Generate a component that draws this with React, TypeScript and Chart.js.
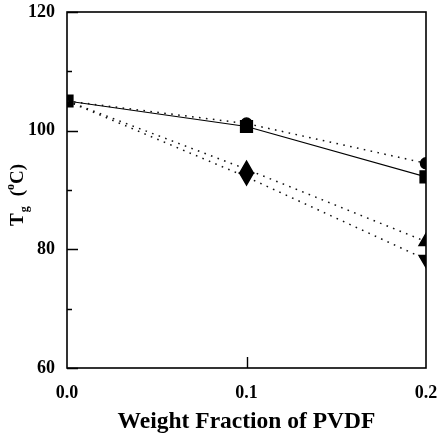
import React, { useEffect, useRef } from "react";
import { Chart, registerables } from "chart.js";

Chart.register(...registerables);

// ---- data ----
const X_VALUES = [0.0, 0.1, 0.2];
const SQUARE_SERIES = [105, 100.7, 92.2];
const CIRCLE_SERIES = [105, 101.2, 94.5];
const UP_TRIANGLE_SERIES = [105, 93.5, 81.3];
const DOWN_TRIANGLE_SERIES = [105, 92.2, 78.3];
const Y_TICKS = [60, 70, 80, 90, 100, 110, 120];
const Y_LABELED = [60, 80, 100, 120];
const X_TICKS = [0.1];
const X_TITLE = "Weight Fraction of PVDF";

const FONT = '"Liberation Serif", "Times New Roman", serif';

const toPoints = (ys: number[]) => X_VALUES.map((x, i) => ({ x, y: ys[i] }));

const framePlugin = {
  id: "frame",
  afterDraw(chart: any) {
    const ctx = chart.ctx;
    const { left, right, top, bottom } = chart.chartArea;
    const ys = chart.scales.y;
    const xs = chart.scales.x;
    ctx.save();
    ctx.strokeStyle = "#000";
    ctx.lineWidth = 1.6;
    ctx.strokeRect(left, top, right - left, bottom - top);
    ctx.lineWidth = 1.4;
    ctx.beginPath();
    for (const v of Y_TICKS) {
      const py = Math.round(ys.getPixelForValue(v)) + 0.5;
      const len = Y_LABELED.includes(v) ? 11 : 5;
      ctx.moveTo(left, py);
      ctx.lineTo(left + len, py);
    }
    for (const v of X_TICKS) {
      const px = Math.round(xs.getPixelForValue(v)) + 0.5;
      ctx.moveTo(px, bottom);
      ctx.lineTo(px, bottom - 11);
    }
    ctx.stroke();

    // x title
    ctx.fillStyle = "#000";
    ctx.font = `bold 23.5px ${FONT}`;
    ctx.textAlign = "center";
    ctx.textBaseline = "middle";
    ctx.fillText(X_TITLE, (left + right) / 2, 422);

    // y title: T_g (°C)
    ctx.translate(23, 195);
    ctx.rotate(-Math.PI / 2);
    const big = `bold 19px ${FONT}`;
    const small = `bold 12px ${FONT}`;
    const parts = [
      { t: "T", f: big, dy: 0, gap: 0 },
      { t: "g", f: small, dy: 5, gap: 1 },
      { t: "(", f: big, dy: 0, gap: 10 },
      { t: "o", f: small, dy: -9, gap: 0 },
      { t: "C)", f: big, dy: 0, gap: 0 },
    ];
    let total = 0;
    for (const p of parts) {
      ctx.font = p.f;
      total += ctx.measureText(p.t).width + p.gap;
    }
    let cx = -total / 2;
    ctx.textAlign = "left";
    ctx.textBaseline = "alphabetic";
    for (const p of parts) {
      ctx.font = p.f;
      cx += p.gap;
      ctx.fillText(p.t, cx, p.dy);
      cx += ctx.measureText(p.t).width;
    }
    ctx.restore();
  },
};

export default function App() {
  const ref = useRef<HTMLCanvasElement | null>(null);
  useEffect(() => {
    if (!ref.current) return;
    const dotted = [1.6, 5.4];
    const common = {
      showLine: true,
      borderColor: "#111",
      borderWidth: 1.5,
      borderDash: dotted,
      backgroundColor: "#000",
      pointBorderColor: "#000",
      clip: 0,
    };
    const chart = new Chart(ref.current, {
      type: "scatter",
      data: {
        datasets: [
          { ...common, data: toPoints(CIRCLE_SERIES), pointStyle: "circle", pointRadius: [0, 5.5, 5.5] },
          { ...common, data: toPoints(UP_TRIANGLE_SERIES), pointStyle: "triangle", pointRadius: [0, 8, 8] },
          {
            ...common,
            data: toPoints(DOWN_TRIANGLE_SERIES),
            pointStyle: "triangle",
            pointRotation: 180,
            pointRadius: [0, 8, 8],
          },
          {
            data: toPoints(SQUARE_SERIES),
            showLine: true,
            borderColor: "#000",
            borderWidth: 1.2,
            pointStyle: "rect",
            pointRadius: 8.5,
            backgroundColor: "#000",
            pointBorderColor: "#000",
            clip: 0,
          },
        ],
      },
      options: {
        animation: false,
        responsive: false,
        layout: { padding: { left: 0, top: 12, right: 13, bottom: 0 } },
        plugins: { legend: { display: false }, tooltip: { enabled: false } },
        scales: {
          x: {
            type: "linear",
            min: 0,
            max: 0.2,
            grid: { display: false, drawTicks: false },
            border: { display: false },
            ticks: {
              stepSize: 0.1,
              padding: 15,
              color: "#000",
              font: { family: FONT, size: 18, weight: "bold" },
              callback: (v: any) => Number(v).toFixed(1),
              maxRotation: 0,
            },
            afterFit: (s: any) => {
              s.height = 66;
              s.paddingLeft = 0;
              s.paddingRight = 0;
            },
          },
          y: {
            type: "linear",
            min: 60,
            max: 120,
            grid: { display: false, drawTicks: false },
            border: { display: false },
            ticks: {
              stepSize: 10,
              padding: 12,
              color: "#000",
              font: { family: FONT, size: 18, weight: "bold" },
              callback: (v: any) => (Y_LABELED.includes(Number(v)) ? String(v) : ""),
            },
            afterFit: (s: any) => {
              s.width = 67;
              s.paddingTop = 0;
              s.paddingBottom = 0;
            },
          },
        },
      },
      plugins: [framePlugin],
    } as any);
    return () => chart.destroy();
  }, []);
  return (
    <div style={{ position: "fixed", left: 0, top: 0, width: 439, height: 434, background: "#fff" }}>
      <canvas ref={ref} width={439} height={434} style={{ display: "block" }} />
    </div>
  );
}
